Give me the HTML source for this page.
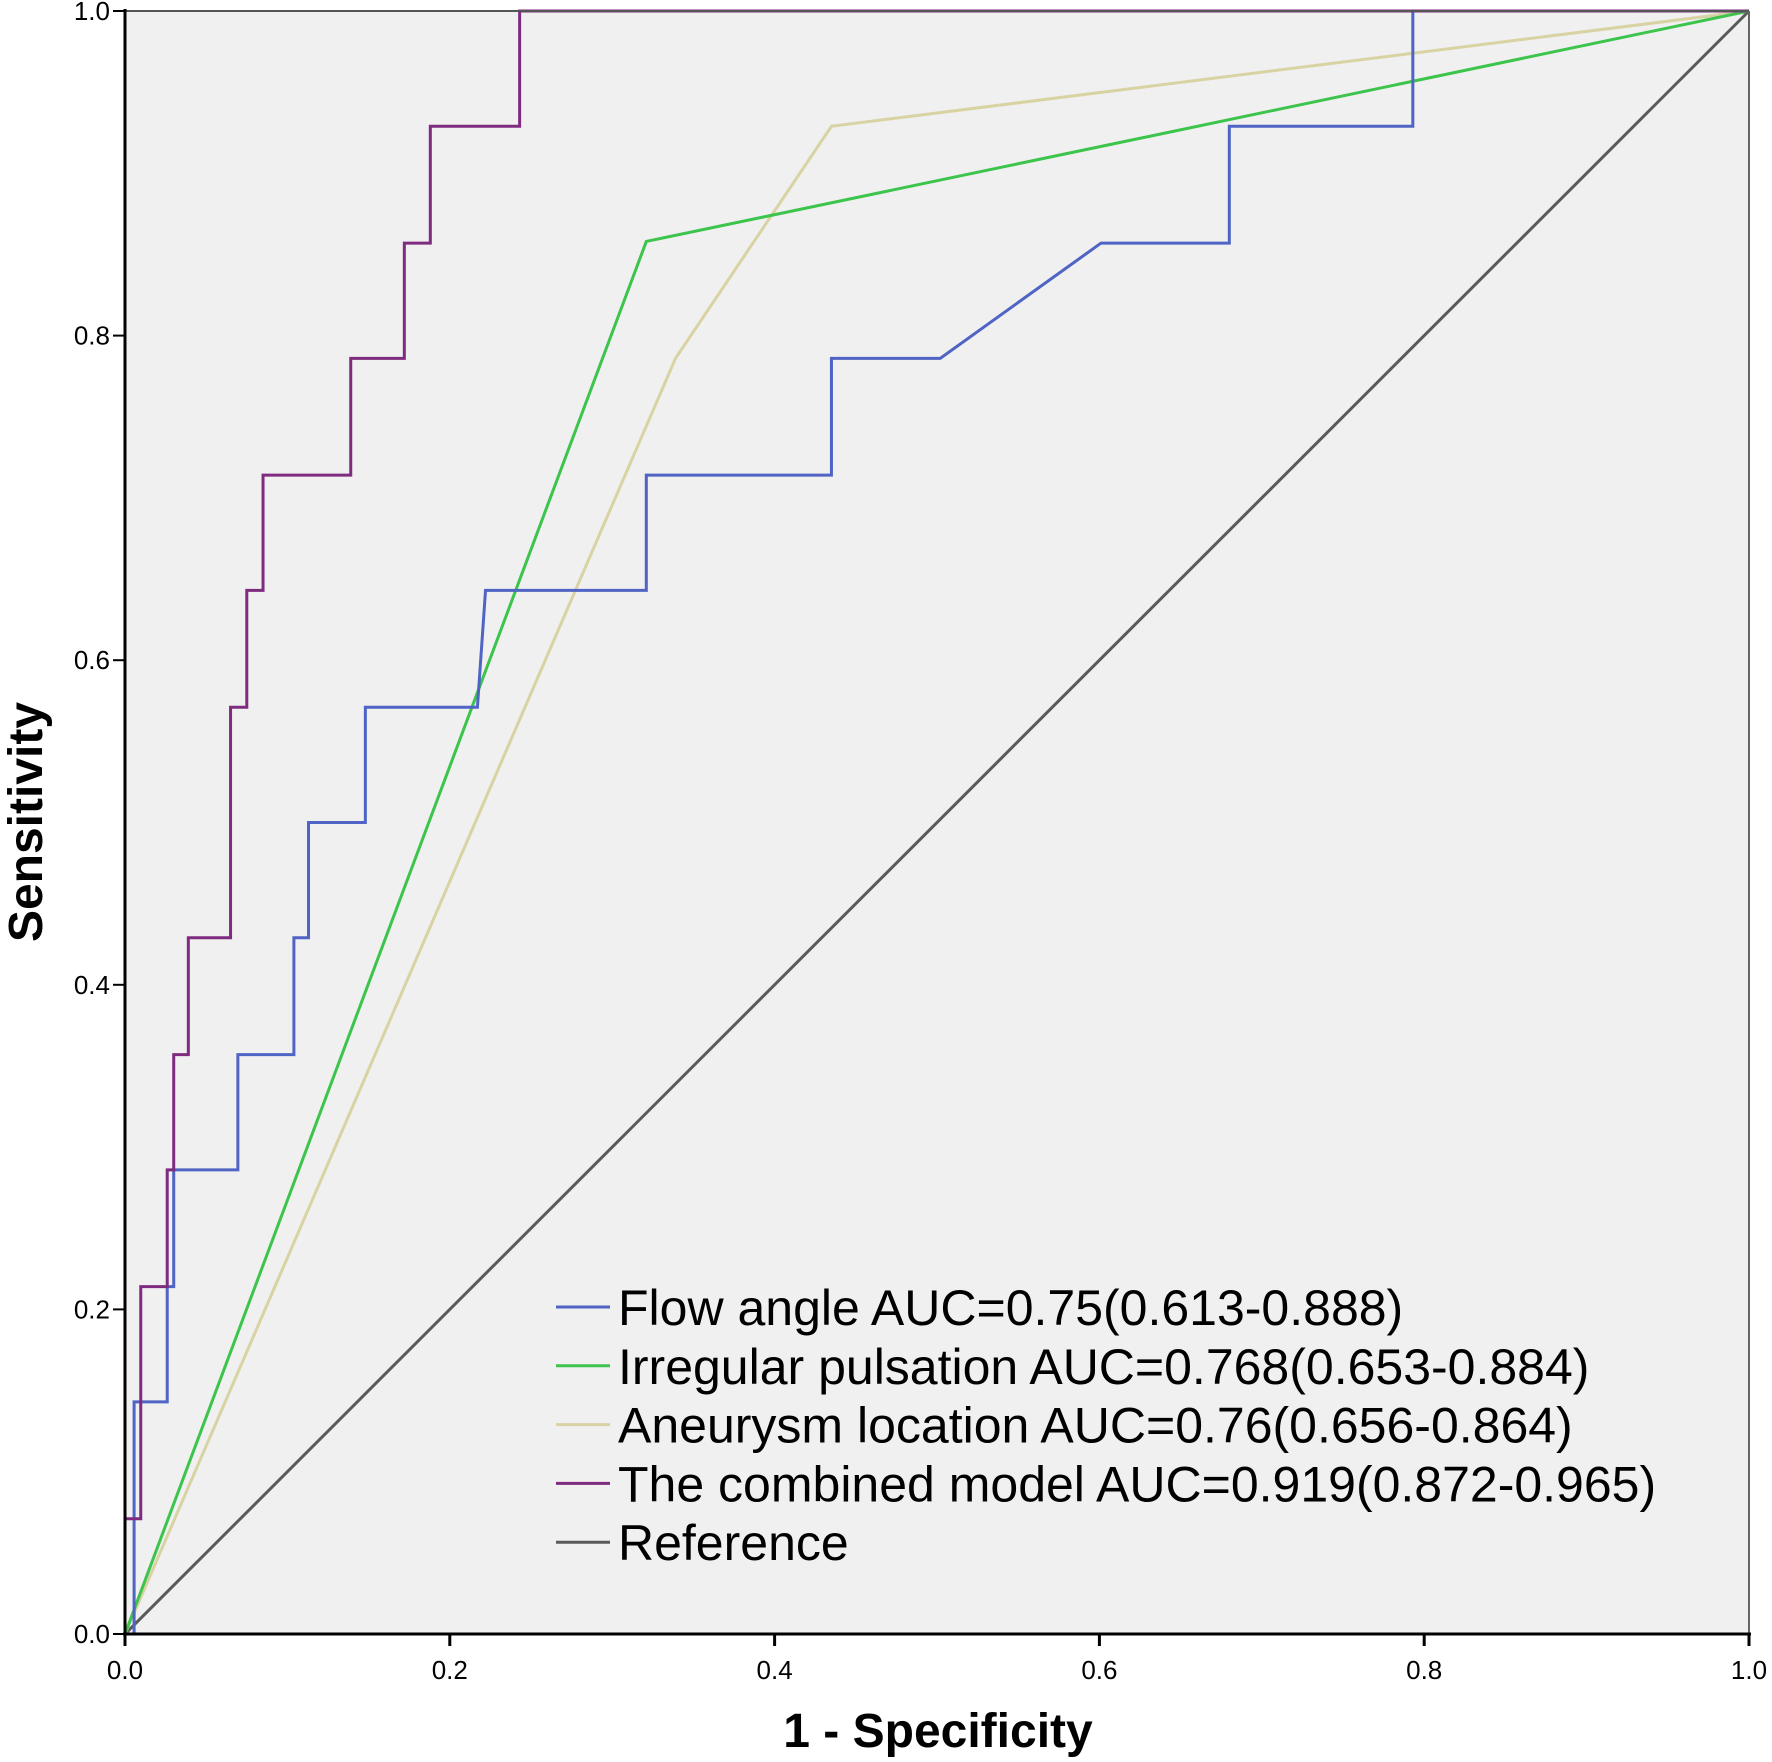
<!DOCTYPE html>
<html><head><meta charset="utf-8"><style>
body{margin:0;background:#fff}
svg{display:block;font-family:"Liberation Sans",Arial,sans-serif}
</style></head><body>
<svg id="chart" width="1772" height="1762" viewBox="0 0 1772 1762">
<rect x="125" y="11" width="1624" height="1623" fill="#f0f0f0"/>
<g id="series"></g>
<line x1="125" y1="11" x2="1749" y2="11" stroke="#555" stroke-width="2"/>
<line x1="1749" y1="11" x2="1749" y2="1634" stroke="#666" stroke-width="2"/>
<line x1="125" y1="9" x2="125" y2="1636" stroke="#000" stroke-width="3"/>
<line x1="123" y1="1634" x2="1751" y2="1634" stroke="#000" stroke-width="3"/>
<g id="ticks"></g>
<text x="938" y="1747" text-anchor="middle" font-size="48" font-weight="bold">1 - Specificity</text>
<text x="0" y="0" transform="translate(42,822) rotate(-90)" text-anchor="middle" font-size="48" font-weight="bold">Sensitivity</text>
<g id="legend"></g>
</svg>
<script>
const tickValues=[0,0.2,0.4,0.6,0.8,1.0];
const tickLabels=["0.0","0.2","0.4","0.6","0.8","1.0"];
const seriesNames=["Flow angle AUC=0.75(0.613-0.888)","Irregular pulsation AUC=0.768(0.653-0.884)","Aneurysm location AUC=0.76(0.656-0.864)","The combined model AUC=0.919(0.872-0.965)","Reference"];
const seriesColors=["#4f64c4","#3cc44c","#d9d2a2","#7e2b80","#5a5a5a"];
const flowX=[0,0.0056,0.0056,0.026,0.026,0.030,0.030,0.0695,0.0695,0.104,0.104,0.113,0.113,0.148,0.148,0.217,0.222,0.321,0.321,0.435,0.435,0.502,0.601,0.680,0.680,0.793,0.793,1];
const flowY=[0,0,0.143,0.143,0.214,0.214,0.286,0.286,0.357,0.357,0.429,0.429,0.5,0.5,0.571,0.571,0.643,0.643,0.714,0.714,0.786,0.786,0.857,0.857,0.929,0.929,1,1];
const irrX=[0,0.321,1];
const irrY=[0,0.858,1];
const aneX=[0,0.339,0.435,1];
const aneY=[0,0.786,0.929,1];
const combX=[0,0,0.0097,0.0097,0.026,0.026,0.030,0.030,0.039,0.039,0.065,0.065,0.075,0.075,0.085,0.085,0.139,0.139,0.172,0.172,0.188,0.188,0.243,0.243,1];
const combY=[0,0.071,0.071,0.214,0.214,0.286,0.286,0.357,0.357,0.429,0.429,0.571,0.571,0.643,0.643,0.714,0.714,0.786,0.786,0.857,0.857,0.929,0.929,1,1];
const refX=[0,1];
const refY=[0,1];
const NS="http://www.w3.org/2000/svg";
const X0=125,X1=1749,Y0=1634,Y1=11;
const sx=v=>X0+v*(X1-X0), sy=v=>Y0-v*(Y0-Y1);
const sg=document.getElementById('series');
const all=[[flowX,flowY],[irrX,irrY],[aneX,aneY],[combX,combY],[refX,refY]];
const names=['flow-angle-line','irregular-pulsation-line','aneurysm-location-line','combined-model-line','reference-line'];
const order=[4,2,1,0,3];
order.forEach(i=>{
  const p=document.createElementNS(NS,'polyline');
  p.setAttribute('points',all[i][0].map((x,k)=>sx(x)+','+sy(all[i][1][k])).join(' '));
  p.setAttribute('fill','none');p.setAttribute('stroke',seriesColors[i]);p.setAttribute('stroke-width','3');
  
  
  sg.appendChild(p);
});
const tg=document.getElementById('ticks');
tickValues.forEach((v,i)=>{
  const a=document.createElementNS(NS,'line');
  a.setAttribute('x1',sx(v));a.setAttribute('x2',sx(v));a.setAttribute('y1',Y0);a.setAttribute('y2',Y0+12);
  a.setAttribute('stroke','#000');a.setAttribute('stroke-width','3');
  
  
  tg.appendChild(a);
  const t=document.createElementNS(NS,'text');
  t.setAttribute('x',sx(v));t.setAttribute('y',Y0+45);t.setAttribute('text-anchor','middle');t.setAttribute('font-size','26');
  t.textContent=tickLabels[i];
  
  
  tg.appendChild(t);
  const b=document.createElementNS(NS,'line');
  b.setAttribute('x1',X0-12);b.setAttribute('x2',X0);b.setAttribute('y1',sy(v));b.setAttribute('y2',sy(v));
  b.setAttribute('stroke','#000');b.setAttribute('stroke-width','2');
  
  
  tg.appendChild(b);
  const u=document.createElementNS(NS,'text');
  u.setAttribute('x',X0-15);u.setAttribute('y',sy(v)+9);u.setAttribute('text-anchor','end');u.setAttribute('font-size','26');
  u.textContent=tickLabels[i];
  
  
  tg.appendChild(u);
});
const lg=document.getElementById('legend');
seriesNames.forEach((n,i)=>{
  const y=1307+i*58.8;
  const l=document.createElementNS(NS,'line');
  l.setAttribute('x1',556);l.setAttribute('x2',610);l.setAttribute('y1',y);l.setAttribute('y2',y);
  l.setAttribute('stroke',seriesColors[i]);l.setAttribute('stroke-width','3');
  
  
  lg.appendChild(l);
  const t=document.createElementNS(NS,'text');
  t.setAttribute('x',618);t.setAttribute('y',y+18);t.setAttribute('font-size','50');
  t.textContent=n;
  
  
  lg.appendChild(t);
});
</script>
</body></html>
